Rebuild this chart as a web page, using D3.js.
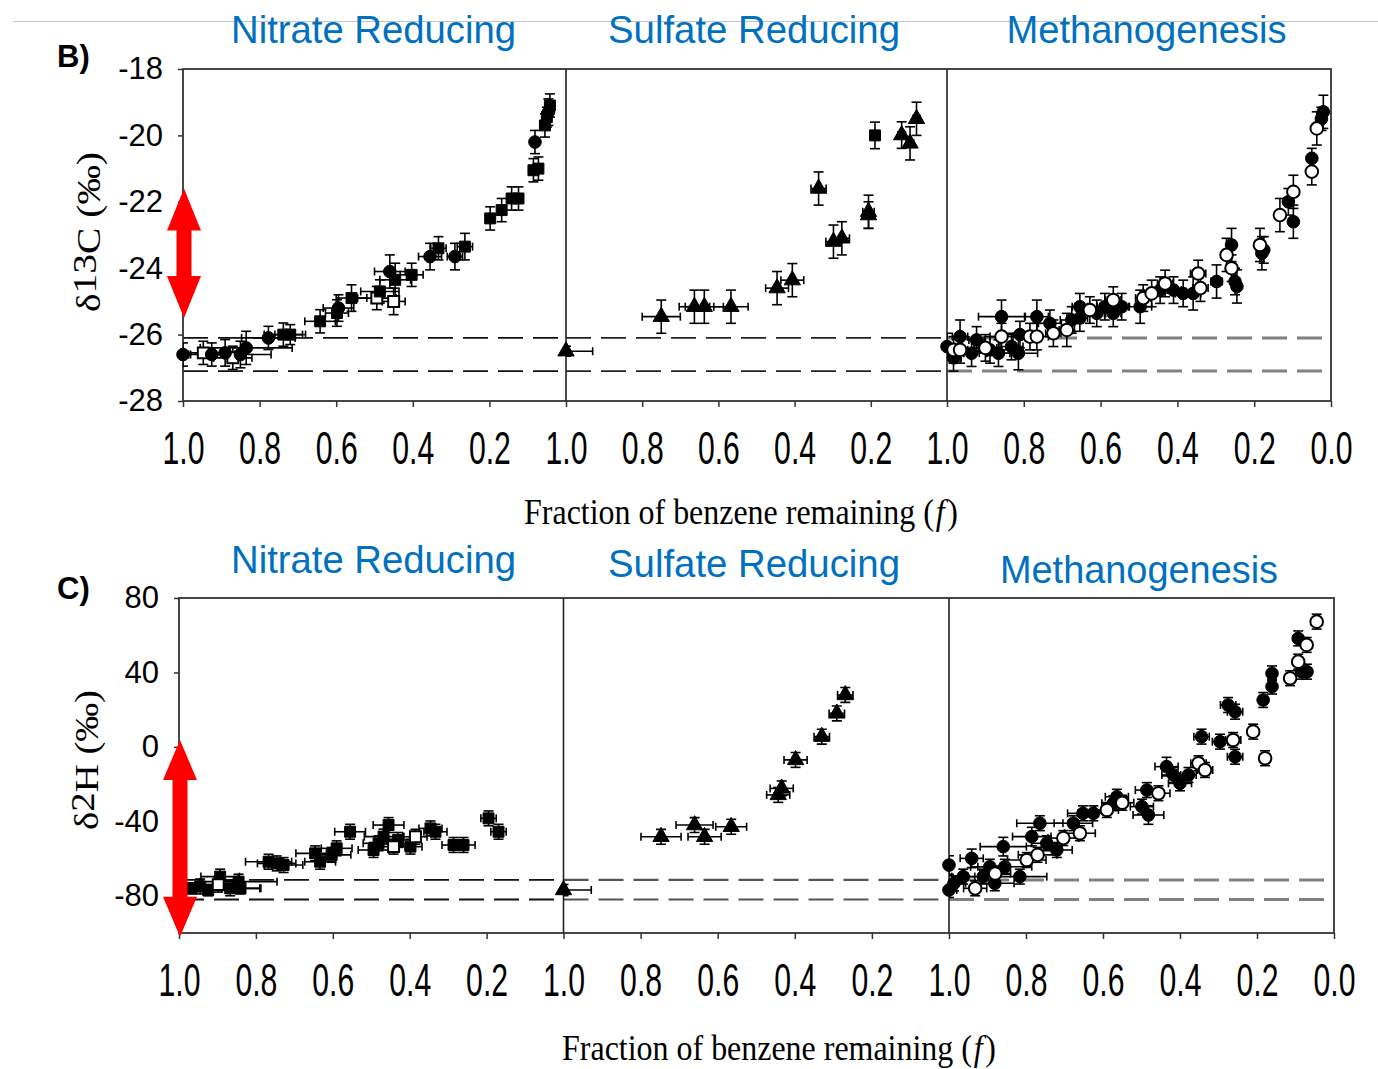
<!DOCTYPE html>
<html><head><meta charset="utf-8">
<script src="https://cdn.jsdelivr.net/npm/d3@7"></script>
<style>body{margin:0;background:#fff}svg{display:block}</style>
</head><body>
<script>
// ---------------- DATA ----------------
const panelNames = ["Nitrate Reducing", "Sulfate Reducing", "Methanogenesis"];
const fTicks = [1.0, 0.8, 0.6, 0.4, 0.2];
const fTicksLast = [1.0, 0.8, 0.6, 0.4, 0.2, 0.0];
const c13Ticks = [-18, -20, -22, -24, -26, -28];
const h2Ticks = [80, 40, 0, -40, -80];
const c13Domain = [-28, -18];
const h2Domain = [-100, 80];
const c13Initial = [-26.1, -27.1];   // dashed lines
const h2Initial = [-71.5, -82];
const c13Arrow = [-21.6, -25.5];
const h2Arrow = [3.7, -102];
const xTitle = "Fraction of benzene remaining (";

// each point: [f, delta, fErr, deltaErr]
const nitC13Circle = [[1.0,-26.6,0.02,0.35],[0.925,-26.6,0.06,0.35],[0.89,-26.55,0.05,0.4],[0.85,-26.6,0.08,0.4],[0.835,-26.4,0.12,0.5],[0.777,-26.1,0.07,0.35],[0.594,-25.2,0.04,0.4],[0.46,-24.1,0.04,0.5],[0.355,-23.65,0.03,0.4],[0.29,-23.65,0.02,0.4],[0.081,-20.2,0.01,0.35],[0.046,-19.3,0.01,0.4]];
const nitC13Square = [[0.738,-26.0,0.05,0.35],[0.72,-26.0,0.04,0.3],[0.642,-25.6,0.04,0.35],[0.598,-25.35,0.03,0.4],[0.56,-24.9,0.04,0.4],[0.486,-24.7,0.05,0.35],[0.446,-24.35,0.04,0.5],[0.403,-24.2,0.03,0.35],[0.333,-23.4,0.02,0.35],[0.264,-23.35,0.02,0.4],[0.198,-22.5,0.01,0.35],[0.168,-22.25,0.01,0.35],[0.142,-21.9,0.01,0.35],[0.124,-21.9,0.01,0.35],[0.085,-21.05,0.01,0.35],[0.072,-21.0,0.01,0.35],[0.055,-19.7,0.01,0.35],[0.05,-19.45,0.01,0.3],[0.042,-19.1,0.01,0.35]];
const nitC13Open = [[0.947,-26.55,0.05,0.35],[0.87,-26.7,0.05,0.35],[0.494,-24.9,0.05,0.35],[0.45,-25.0,0.03,0.4]];

const sulfC13Tri = [[1.0,-26.5,0.07,0.15],[0.75,-25.46,0.05,0.5],[0.663,-25.16,0.04,0.5],[0.637,-25.16,0.05,0.5],[0.567,-25.16,0.045,0.5],[0.446,-24.6,0.03,0.5],[0.406,-24.36,0.03,0.5],[0.337,-21.6,0.02,0.5],[0.298,-23.2,0.02,0.5],[0.276,-23.1,0.02,0.5],[0.206,-22.3,0.015,0.5],[0.206,-22.4,0.015,0.4],[0.119,-19.99,0.01,0.4],[0.097,-20.24,0.01,0.5],[0.08,-19.5,0.01,0.5]];
const sulfC13Square = [[0.189,-20.0,0.01,0.4]];

const methC13Filled = [[1.0,-26.36,0.02,0.4],[0.983,-26.7,0.02,0.4],[0.966,-26.06,0.02,0.5],[0.936,-26.56,0.02,0.4],[0.923,-26.16,0.02,0.4],[0.888,-26.46,0.03,0.4],[0.866,-26.56,0.03,0.4],[0.858,-25.46,0.06,0.5],[0.832,-26.36,0.03,0.4],[0.814,-26.56,0.05,0.5],[0.81,-26.0,0.04,0.4],[0.766,-25.46,0.03,0.5],[0.732,-25.66,0.03,0.4],[0.675,-25.56,0.03,0.4],[0.654,-25.16,0.02,0.4],[0.654,-25.5,0.02,0.4],[0.61,-25.36,0.02,0.4],[0.589,-25.16,0.02,0.4],[0.567,-25.36,0.02,0.4],[0.545,-25.16,0.02,0.4],[0.497,-25.16,0.03,0.5],[0.445,-24.66,0.02,0.4],[0.41,-24.66,0.02,0.4],[0.385,-24.76,0.02,0.4],[0.359,-24.76,0.02,0.5],[0.298,-24.4,0.015,0.5],[0.259,-23.3,0.01,0.5],[0.25,-24.4,0.01,0.4],[0.245,-24.55,0.01,0.5],[0.18,-23.55,0.01,0.5],[0.175,-23.45,0.01,0.4],[0.111,-22.0,0.01,0.4],[0.098,-22.6,0.01,0.5],[0.05,-20.69,0.005,0.3],[0.025,-19.5,0.005,0.35],[0.02,-19.29,0.005,0.5]];
const methC13Open = [[0.983,-26.46,0.02,0.4],[0.966,-26.46,0.02,0.4],[0.9,-26.4,0.03,0.4],[0.858,-26.06,0.03,0.4],[0.784,-26.06,0.03,0.4],[0.766,-26.06,0.03,0.4],[0.723,-25.96,0.02,0.4],[0.688,-25.86,0.02,0.5],[0.628,-25.26,0.02,0.4],[0.567,-24.96,0.02,0.4],[0.489,-24.9,0.02,0.4],[0.467,-24.76,0.02,0.4],[0.432,-24.46,0.02,0.4],[0.346,-24.16,0.02,0.4],[0.34,-24.6,0.02,0.4],[0.272,-23.6,0.01,0.5],[0.259,-24.0,0.01,0.4],[0.185,-23.3,0.01,0.5],[0.133,-22.4,0.01,0.5],[0.098,-21.7,0.01,0.5],[0.05,-21.09,0.005,0.4],[0.037,-19.79,0.005,0.5]];

const nitH2Square = [[0.967,-76,0.03,3],[0.945,-75,0.04,4],[0.924,-77,0.05,3],[0.893,-69.7,0.05,4],[0.867,-76,0.08,4],[0.845,-72.4,0.1,4],[0.84,-76,0.05,3],[0.767,-61.7,0.06,4],[0.746,-62.6,0.05,4],[0.728,-63.5,0.05,4],[0.646,-57.2,0.05,4],[0.633,-61.7,0.04,4],[0.603,-58,0.05,4],[0.59,-54.5,0.04,4],[0.555,-45.6,0.04,4],[0.494,-55.4,0.04,4],[0.481,-51.8,0.04,4],[0.468,-48.2,0.05,4],[0.455,-42,0.04,4],[0.43,-50,0.03,4],[0.398,-53.6,0.03,4],[0.346,-43.8,0.03,4],[0.333,-45.6,0.03,4],[0.286,-52.7,0.03,4],[0.26,-52.7,0.03,4],[0.195,-38.4,0.02,4],[0.169,-45.6,0.02,4]];
const nitH2Open = [[0.898,-74,0.04,4],[0.442,-53.6,0.03,4],[0.385,-48.3,0.03,4]];

const sulfH2Tri = [[1.0,-76.9,0.072,3],[0.747,-48.3,0.052,4],[0.66,-42,0.048,4],[0.634,-48.3,0.043,4],[0.565,-42.9,0.04,4],[0.443,-25.8,0.03,4],[0.434,-22.3,0.03,4],[0.398,-7.0,0.03,4],[0.33,5.5,0.02,4],[0.291,18,0.02,4],[0.269,27.9,0.02,4]];

const methH2Filled = [[1.0,-63.5,0.01,5],[1.0,-76.9,0.02,4],[0.987,-73.3,0.03,4],[0.963,-69.7,0.03,4],[0.941,-59.9,0.03,5],[0.911,-69.7,0.04,4],[0.894,-64.4,0.05,4],[0.881,-73.3,0.05,4],[0.859,-53.6,0.06,5],[0.855,-64.4,0.07,4],[0.816,-69.7,0.07,4],[0.785,-48.2,0.05,5],[0.764,-41,0.06,4],[0.746,-51.8,0.04,4],[0.72,-55.4,0.04,4],[0.677,-41,0.05,4],[0.652,-35.7,0.04,4],[0.625,-35.7,0.04,4],[0.573,-30.3,0.03,4],[0.564,-26.8,0.03,4],[0.499,-32.1,0.03,4],[0.486,-23.2,0.03,4],[0.482,-36.6,0.04,5],[0.435,-10.6,0.03,5],[0.417,-15.1,0.03,4],[0.4,-19.6,0.03,4],[0.378,-15.1,0.02,4],[0.344,5.5,0.02,4],[0.296,2.8,0.02,4],[0.275,22.5,0.02,4],[0.257,18.9,0.02,4],[0.257,-5.3,0.02,4],[0.184,25.2,0.01,4],[0.161,32.4,0.01,4],[0.161,39.5,0.01,4],[0.093,58.3,0.01,4],[0.084,40.4,0.01,4],[0.07,40.4,0.01,4]];
const methH2Open = [[0.932,-76,0.03,4],[0.88,-68,0.04,4],[0.798,-60.8,0.05,4],[0.77,-58,0.05,4],[0.703,-49,0.04,4],[0.66,-46.4,0.04,4],[0.59,-33.9,0.03,4],[0.55,-30,0.03,4],[0.456,-24.9,0.03,4],[0.352,-8.8,0.02,4],[0.335,-12.4,0.02,4],[0.262,3.7,0.02,4],[0.21,8.2,0.01,4],[0.179,-6.1,0.01,4],[0.114,36.9,0.01,4],[0.093,45.8,0.01,4],[0.071,54.8,0.01,4],[0.045,67.3,0.01,4]];

// ---------------- DRAWING ----------------
const W = 1378, H = 1069;
const svg = d3.select("body").append("svg").attr("width", W).attr("height", H);
const SANS = "'Liberation Sans', Arial, sans-serif";
const SERIF = "'Liberation Serif', 'Times New Roman', serif";

svg.append("line").attr("x1", 13).attr("x2", W).attr("y1", 21.5).attr("y2", 21.5)
  .attr("stroke", "#c4c4c4").attr("stroke-width", 1.2);

const sym = {
  circle: d3.symbol().type(d3.symbolCircle).size(125)(),
  square: d3.symbol().type(d3.symbolSquare).size(120)(),
  triangle: d3.symbol().type(d3.symbolTriangle).size(115)()
};

let clipId = 0;
function drawRow(cfg) {
  const y = d3.scaleLinear().domain(cfg.yDomain).range([cfg.bottom, cfg.top]);
  const g = svg.append("g");
  const xs = cfg.panels.map(p => d3.scaleLinear().domain([1, 0]).range([p.x0, p.x1]));

  // dashed initial-value lines
  cfg.panels.forEach((p, i) => {
    cfg.initial.forEach(v => {
      g.append("line").attr("x1", p.x0).attr("x2", p.x1)
        .attr("y1", y(v)).attr("y2", y(v))
        .attr("stroke", p.dashColor).attr("stroke-width", p.dashWidth)
        .attr("stroke-dasharray", "25,10");
    });
  });

  // frame
  const left = cfg.panels[0].x0, right = cfg.panels[2].x1;
  g.append("rect").attr("x", left).attr("y", cfg.top).attr("width", right - left)
    .attr("height", cfg.bottom - cfg.top).attr("fill", "none")
    .attr("stroke", "#333").attr("stroke-width", 1.8);
  [cfg.panels[1].x0, cfg.panels[2].x0].forEach(xv => {
    g.append("line").attr("x1", xv).attr("x2", xv).attr("y1", cfg.top).attr("y2", cfg.bottom)
      .attr("stroke", "#222").attr("stroke-width", 1.6);
  });

  // x axes
  cfg.panels.forEach((p, i) => {
    const ax = g.append("g").attr("transform", `translate(0,${cfg.bottom})`)
      .call(d3.axisBottom(xs[i]).tickValues(i === 2 ? fTicksLast : fTicks)
        .tickSize(6).tickFormat(d3.format(".1f")));
    ax.select(".domain").remove();
    ax.selectAll(".tick line").attr("stroke", "#333").attr("stroke-width", 1.5);
    ax.selectAll(".tick text").attr("y", 63).attr("dy", null)
      .attr("font-family", SANS).attr("font-size", 46).attr("fill", "#000")
      .attr("textLength", 42).attr("lengthAdjust", "spacingAndGlyphs");
  });

  // y axis
  const ay = g.append("g").attr("transform", `translate(${left},0)`)
    .call(d3.axisLeft(y).tickValues(cfg.yTicks).tickSize(5).tickPadding(15).tickFormat(d => String(d)));
  ay.select(".domain").remove();
  ay.selectAll(".tick line").attr("stroke", "#333").attr("stroke-width", 1.5);
  ay.selectAll(".tick text").attr("font-family", SANS).attr("font-size", 31).attr("fill", "#000");

  // data
  cfg.panels.forEach((p, i) => {
    const x = xs[i];
    const cid = "clip" + (clipId++);
    svg.append("clipPath").attr("id", cid).append("rect")
      .attr("x", p.x0).attr("y", cfg.top).attr("width", p.x1 - p.x0).attr("height", cfg.bottom - cfg.top);
    const eb = g.append("g").attr("clip-path", `url(#${cid})`)
      .attr("stroke", "#000").attr("stroke-width", 1.6).attr("fill", "none");
    const mk = g.append("g");
    p.series.forEach(s => {
      s.data.forEach(d => {
        const cx = x(d[0]), cy = y(d[1]);
        const xl = x(d[0] + d[2]), xr = x(d[0] - d[2]);
        const yt = y(d[1] + d[3]), yb = y(d[1] - d[3]);
        eb.append("line").attr("x1", xl).attr("x2", xr).attr("y1", cy).attr("y2", cy);
        eb.append("line").attr("x1", xl).attr("x2", xl).attr("y1", cy - 4).attr("y2", cy + 4);
        eb.append("line").attr("x1", xr).attr("x2", xr).attr("y1", cy - 4).attr("y2", cy + 4);
        eb.append("line").attr("x1", cx).attr("x2", cx).attr("y1", yt).attr("y2", yb);
        eb.append("line").attr("x1", cx - 5).attr("x2", cx + 5).attr("y1", yt).attr("y2", yt);
        eb.append("line").attr("x1", cx - 5).attr("x2", cx + 5).attr("y1", yb).attr("y2", yb);
      });
      mk.selectAll(null).data(s.data).enter().append("path")
        .attr("d", sym[s.shape])
        .attr("transform", d => `translate(${x(d[0])},${y(d[1])})`)
        .attr("fill", s.open ? "#fff" : "#000")
        .attr("stroke", "#000").attr("stroke-width", s.open ? 2 : 1);
    });
  });

  // red double arrow
  const ax0 = cfg.panels[0].x0 + 1;
  const yTop = y(cfg.arrow[0]), yBot = y(cfg.arrow[1]);
  const hw = 17, sw = 7.5, hl = cfg.headLen;
  const pts = [[ax0, yTop], [ax0 + hw, yTop + hl], [ax0 + sw, yTop + hl], [ax0 + sw, yBot - hl],
    [ax0 + hw, yBot - hl], [ax0, yBot], [ax0 - hw, yBot - hl], [ax0 - sw, yBot - hl],
    [ax0 - sw, yTop + hl], [ax0 - hw, yTop + hl]];
  g.append("path").attr("d", d3.line()(pts) + "Z").attr("fill", "#ff0000");

  // panel titles
  cfg.titles.forEach((t, i) => {
    g.append("text").attr("x", t.x).attr("y", t.y).attr("text-anchor", "middle")
      .attr("font-family", SANS).attr("font-size", 39).attr("fill", "#0070c0")
      .attr("textLength", t.w).attr("lengthAdjust", "spacingAndGlyphs")
      .text(panelNames[i]);
  });

  // row letter
  g.append("text").attr("x", 57).attr("y", cfg.letterY).attr("font-family", SANS)
    .attr("font-weight", "bold").attr("font-size", 31).text(cfg.letter);

  // y title
  const yt = g.append("text").attr("transform", `translate(${cfg.yTitleX},${cfg.yTitleY}) rotate(-90)`)
    .attr("text-anchor", "middle").attr("font-family", SERIF).attr("font-size", 34)
    .attr("textLength", cfg.yTitleLen).attr("lengthAdjust", "spacingAndGlyphs");
  yt.append("tspan").text("δ");
  yt.append("tspan").attr("dy", -4).text(cfg.iso);
  yt.append("tspan").attr("dy", 4).text(cfg.el + " (‰)");

  // x title (condensed serif)
  const xt = g.append("text")
    .attr("transform", `translate(${cfg.xTitleX},${cfg.xTitleY}) scale(0.9,1)`)
    .attr("text-anchor", "middle").attr("font-family", SERIF).attr("font-size", 35.5);
  xt.append("tspan").text(xTitle);
  xt.append("tspan").attr("font-style", "italic").attr("dx", 2).text("f");
  xt.append("tspan").attr("dx", 3).text(")");
}

drawRow({
  yDomain: c13Domain, top: 69, bottom: 401, yTicks: c13Ticks, initial: c13Initial,
  arrow: c13Arrow, headLen: 42, letter: "B)", letterY: 67, iso: "13", el: "C",
  yTitleX: 100, yTitleY: 232, yTitleLen: 160, xTitleX: 741, xTitleY: 524,
  titles: [{x: 373.5, y: 43, w: 285}, {x: 754, y: 43, w: 292}, {x: 1146.5, y: 43, w: 280}],
  panels: [
    {x0: 183, x1: 566, dashColor: "#111", dashWidth: 1.8,
      series: [{data: nitC13Open, shape: "square", open: true}, {data: nitC13Circle, shape: "circle"}, {data: nitC13Square, shape: "square"}]},
    {x0: 566, x1: 947, dashColor: "#222", dashWidth: 1.8,
      series: [{data: sulfC13Tri, shape: "triangle"}, {data: sulfC13Square, shape: "square"}]},
    {x0: 947, x1: 1331, dashColor: "#808080", dashWidth: 3,
      series: [{data: methC13Filled, shape: "circle"}, {data: methC13Open, shape: "circle", open: true}]}
  ]
});

drawRow({
  yDomain: h2Domain, top: 598, bottom: 933, yTicks: h2Ticks, initial: h2Initial,
  arrow: h2Arrow, headLen: 40, letter: "C)", letterY: 599, iso: "2", el: "H",
  yTitleX: 98, yTitleY: 760, yTitleLen: 140, xTitleX: 779, xTitleY: 1060,
  titles: [{x: 373.5, y: 573, w: 285}, {x: 754, y: 577, w: 292}, {x: 1139, y: 583, w: 278}],
  panels: [
    {x0: 179, x1: 563.5, dashColor: "#111", dashWidth: 1.8,
      series: [{data: nitH2Square, shape: "square"}, {data: nitH2Open, shape: "square", open: true}]},
    {x0: 563.5, x1: 949, dashColor: "#555", dashWidth: 2.2,
      series: [{data: sulfH2Tri, shape: "triangle"}]},
    {x0: 949, x1: 1334, dashColor: "#808080", dashWidth: 3,
      series: [{data: methH2Filled, shape: "circle"}, {data: methH2Open, shape: "circle", open: true}]}
  ]
});
</script>
</body></html>
